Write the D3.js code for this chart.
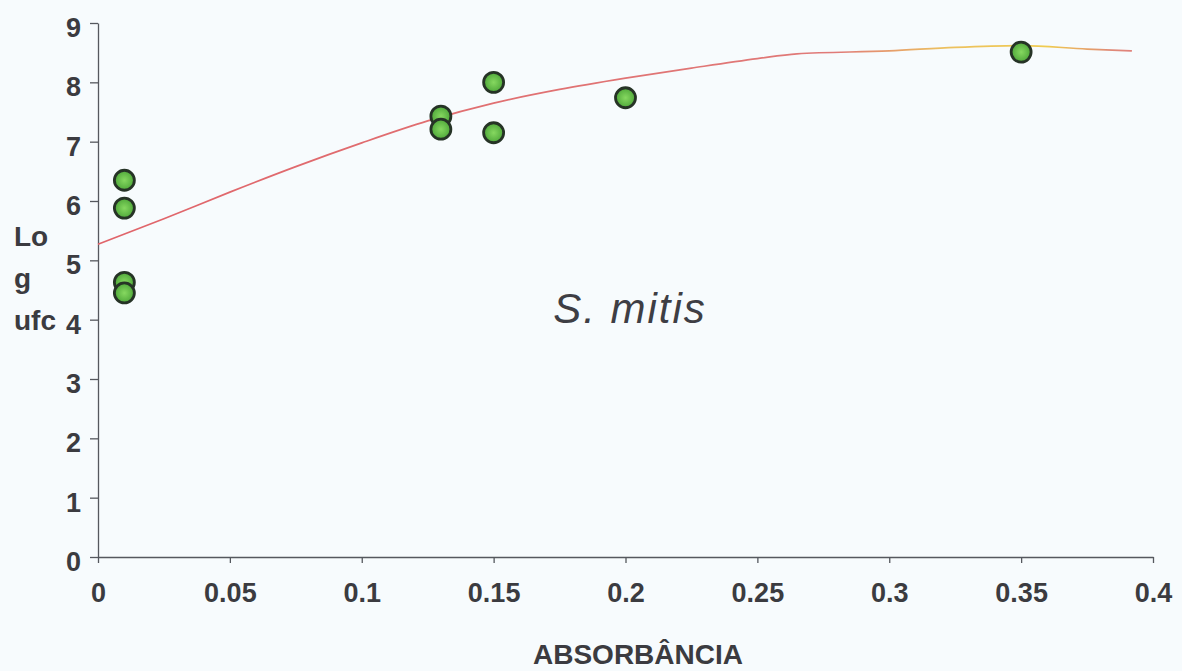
<!DOCTYPE html>
<html>
<head>
<meta charset="utf-8">
<script src="https://cdn.jsdelivr.net/npm/d3@7"></script>
<style>
  body { margin: 0; background: #f7fbfd; }
  svg { display: block; }
  .tick text { font-family: "Liberation Sans", Arial, sans-serif; font-weight: bold; fill: #3b3b40; }
</style>
</head>
<body>
<div id="chart"></div>
<script>
// measured points (absorbance, log ufc)
var absorb = [0.01, 0.01, 0.01, 0.01, 0.13, 0.13, 0.15, 0.15, 0.2, 0.35];
var logUfc = [6.35, 5.88, 4.63, 4.45, 7.43, 7.21, 8.0, 7.15, 7.74, 8.51];

// trend line
var curveX = [0, 0.025, 0.05, 0.075, 0.1, 0.125, 0.15, 0.175, 0.2, 0.225, 0.25, 0.265, 0.3, 0.325, 0.35, 0.375, 0.392];
var curveY = [5.27, 5.7, 6.15, 6.58, 6.98, 7.35, 7.65, 7.88, 8.07, 8.24, 8.4, 8.48, 8.53, 8.59, 8.62, 8.56, 8.53];

var xTicks = [0, 0.05, 0.1, 0.15, 0.2, 0.25, 0.3, 0.35, 0.4];
var yTicks = [0, 1, 2, 3, 4, 5, 6, 7, 8, 9];
var yLabelLines = ["Lo", "g", "ufc"];

var W = 1182, H = 671;
var margin = { top: 23, right: 29, bottom: 114, left: 98 };

var svg = d3.select("#chart").append("svg")
    .attr("width", W)
    .attr("height", H);

svg.append("rect").attr("width", W).attr("height", H).attr("fill", "#f7fbfd");

var x = d3.scaleLinear().domain([0, 0.4]).range([margin.left, W - margin.right]);
var y = d3.scaleLinear().domain([0, 9]).range([H - margin.bottom, margin.top]);

var defs = svg.append("defs");
var grad = defs.append("linearGradient")
    .attr("id", "lineGrad")
    .attr("gradientUnits", "userSpaceOnUse")
    .attr("x1", x(0)).attr("x2", x(0.4))
    .attr("y1", 0).attr("y2", 0);
grad.append("stop").attr("offset", "0%").attr("stop-color", "#e0646a");
grad.append("stop").attr("offset", "70%").attr("stop-color", "#e07a78");
grad.append("stop").attr("offset", "80%").attr("stop-color", "#ecc060");
grad.append("stop").attr("offset", "90%").attr("stop-color", "#f0cc50");
grad.append("stop").attr("offset", "96%").attr("stop-color", "#e08a78");
grad.append("stop").attr("offset", "100%").attr("stop-color", "#e07a80");

var dotGrad = defs.append("radialGradient").attr("id", "dotGrad");
dotGrad.append("stop").attr("offset", "0%").attr("stop-color", "#86d860");
dotGrad.append("stop").attr("offset", "100%").attr("stop-color", "#4fa83a");

var xAxis = d3.axisBottom(x).tickValues(xTicks).tickSize(6).tickSizeOuter(0)
    .tickFormat(function(d) { return d === 0 ? "0" : String(d); });
var yAxis = d3.axisLeft(y).tickValues(yTicks).tickSize(8).tickSizeOuter(0)
    .tickFormat(d3.format("d"));

var gx = svg.append("g")
    .attr("transform", "translate(0," + y(0) + ")")
    .call(xAxis);
gx.selectAll("text").attr("dy", "1.1em").attr("y", 15).style("font-size", "27px");

var gy = svg.append("g")
    .attr("transform", "translate(" + x(0) + ",0)")
    .call(yAxis);
gy.selectAll("text").attr("x", -17).attr("dy", "0.5em").style("font-size", "27px");

svg.selectAll(".domain, .tick line").attr("stroke", "#55585e").attr("stroke-width", 1.3);

// trend line
var line = d3.line()
    .x(function(d, i) { return x(curveX[i]); })
    .y(function(d, i) { return y(curveY[i]); })
    .curve(d3.curveMonotoneX);

svg.append("path")
    .datum(curveX)
    .attr("d", line)
    .attr("fill", "none")
    .attr("stroke", "url(#lineGrad)")
    .attr("stroke-width", 1.7);

// points
svg.selectAll("circle.pt")
    .data(absorb)
    .enter().append("circle")
    .attr("class", "pt")
    .attr("cx", function(d) { return x(d); })
    .attr("cy", function(d, i) { return y(logUfc[i]); })
    .attr("r", 10)
    .attr("fill", "url(#dotGrad)")
    .attr("stroke", "#263326")
    .attr("stroke-width", 2.8);

// y label stacked
svg.append("g").selectAll("text")
    .data(yLabelLines)
    .enter().append("text")
    .attr("x", 14)
    .attr("y", function(d, i) { return 246 + i * 42; })
    .style("font-family", "Liberation Sans, Arial, sans-serif")
    .style("font-weight", "bold")
    .style("font-size", "28px")
    .attr("fill", "#3b3b40")
    .text(function(d) { return d; });

// x title
svg.append("text")
    .attr("x", 638)
    .attr("y", 664)
    .attr("text-anchor", "middle")
    .style("font-family", "Liberation Sans, Arial, sans-serif")
    .style("font-weight", "bold")
    .style("font-size", "28px")
    .attr("fill", "#3b3b40")
    .text("ABSORBÂNCIA");

// species name
svg.append("text")
    .attr("x", 630)
    .attr("y", 323)
    .attr("text-anchor", "middle")
    .style("font-family", "Liberation Sans, Arial, sans-serif")
    .style("font-style", "italic")
    .style("font-size", "42px")
    .style("letter-spacing", "2px")
    .attr("fill", "#3e3e44")
    .text("S. mitis");
</script>
</body>
</html>
